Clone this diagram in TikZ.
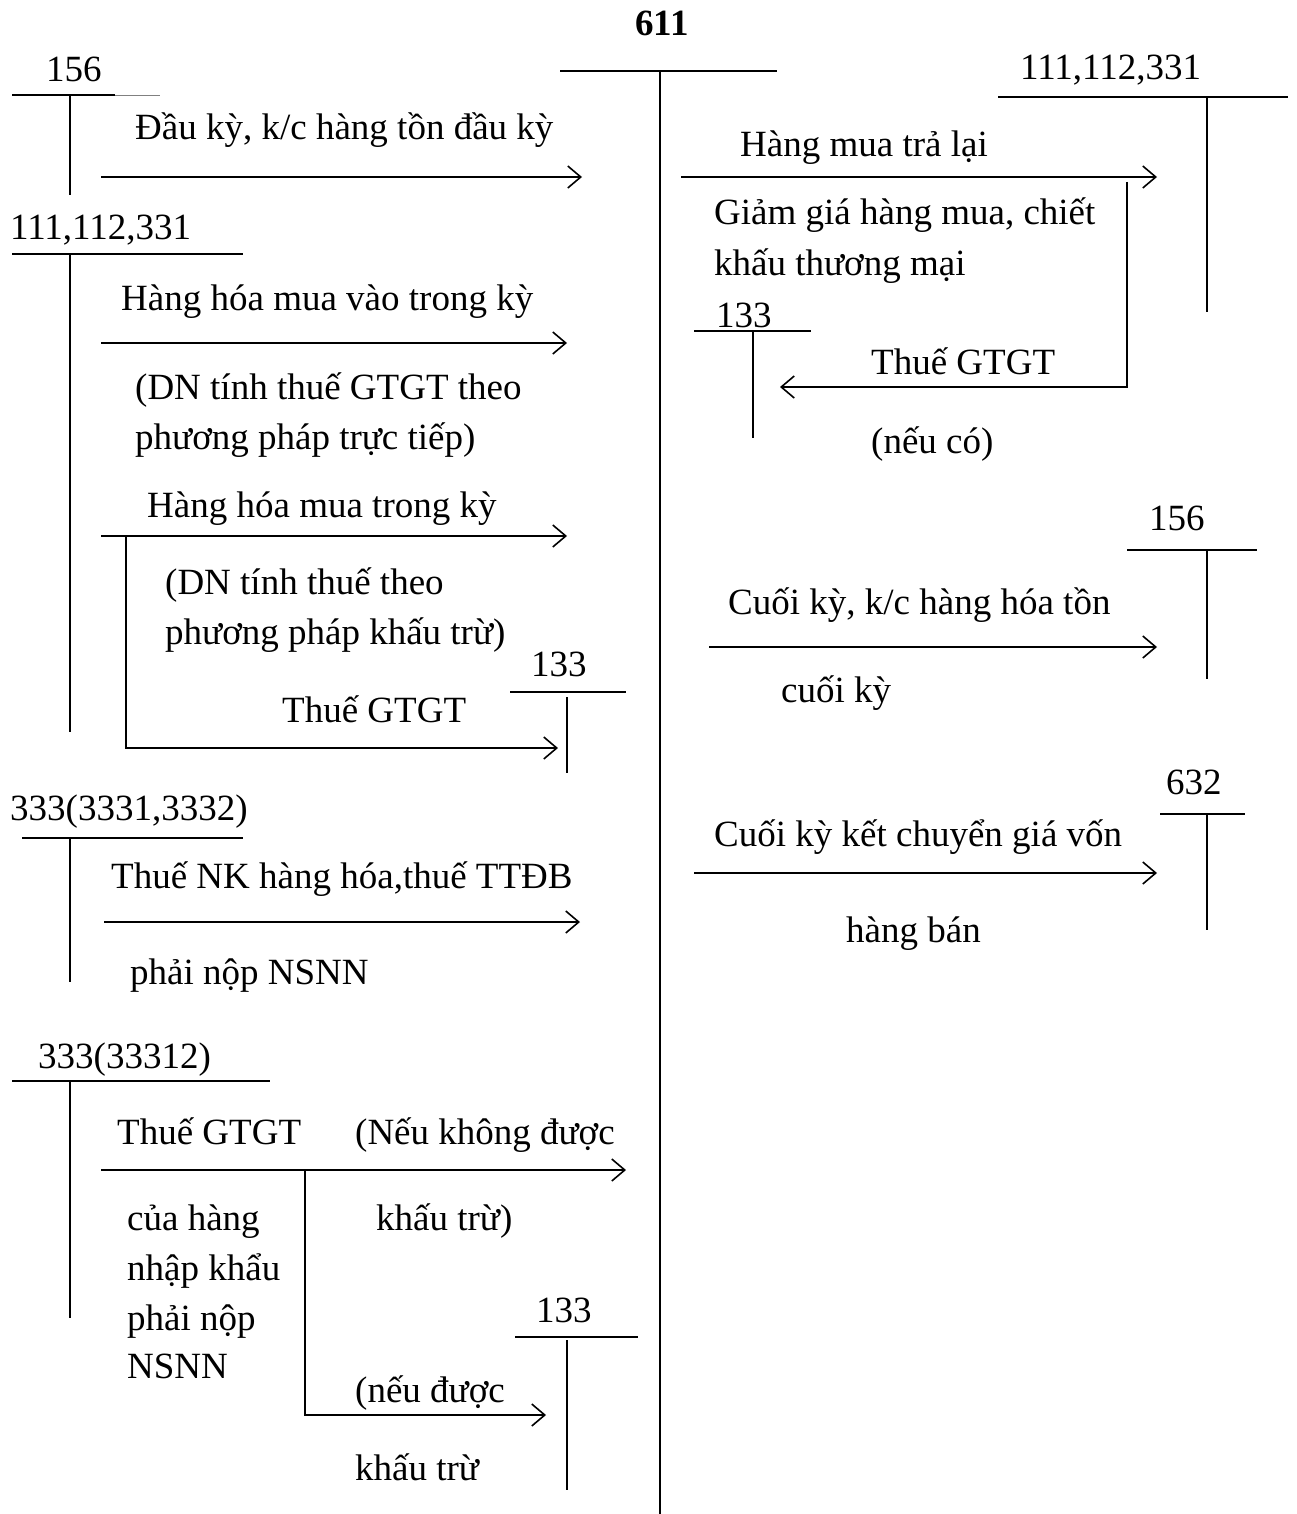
\documentclass[tikz,border=0pt]{standalone}
\usepackage{fontspec}
\setmainfont{Liberation Serif}
\usetikzlibrary{arrows.meta}
\tikzset{
  tline/.style={line width=1.6pt},
  flow/.style={line width=1.6pt,-{Straight Barb[length=13pt,width=22pt,line width=1.6pt]}},
  lbl/.style={anchor=base west,inner sep=0pt,font=\fontsize{37}{44}\selectfont},
}
\begin{document}
\begin{tikzpicture}[x=1pt,y=-1pt]
\useasboundingbox (0,0) rectangle (1296,1514);
% 611
\node[anchor=base,inner sep=0pt,font=\fontsize{37}{44}\selectfont\bfseries] (t611) at (662,36) {611};
\draw[tline] (560,71) -- (777,71);
\draw[tline] (660,71) -- (660,1514);

% 156 left
\node[lbl] (a156) at (46,82) {156};
\draw[tline] (12,95) -- (115,95);
\draw[line width=0.8pt,gray] (115,95) -- (160,95);
\draw[tline] (70,95) -- (70,195);
\node[lbl] (l1) at (135,140) {Đầu kỳ, k/c hàng tồn đầu kỳ};
\coordinate (s1) at (101,177); \coordinate (e1) at (582,177);
\draw[flow] (s1) -- (e1);

% 111,112,331 left
\node[lbl] (a111) at (10,240) {111,112,331};
\draw[tline] (12,254) -- (243,254);
\draw[tline] (70,254) -- (70,732);
\node[lbl] (l2) at (121,310) {Hàng hóa mua vào trong kỳ};
\coordinate (s2) at (101,343); \coordinate (e2) at (567,343);
\draw[flow] (s2) -- (e2);
\node[lbl] (l3a) at (135,399) {(DN tính thuế GTGT theo};
\node[lbl] (l3b) at (135,449) {phương pháp trực tiếp)};
\node[lbl] (l4) at (147,517) {Hàng hóa mua trong kỳ};
\coordinate (s3) at (101,536); \coordinate (e3) at (567,536);
\draw[flow] (s3) -- (e3);
\coordinate (b3) at (126,536); \coordinate (e3b) at (558,748);
\draw[flow] (b3) |- (e3b);
\node[lbl] (l5a) at (165,594) {(DN tính thuế theo};
\node[lbl] (l5b) at (165,644) {phương pháp khấu trừ)};
\node[lbl] (a133a) at (531,676) {133};
\draw[tline] (510,692) -- (626,692);
\draw[tline] (567,697) -- (567,773);
\node[lbl] (l6) at (282,722) {Thuế GTGT};

% 333(3331,3332)
\node[lbl] (a333) at (10,820) {333(3331,3332)};
\draw[tline] (22,838) -- (243,838);
\draw[tline] (70,838) -- (70,982);
\node[lbl] (l7) at (111,888) {Thuế NK hàng hóa,thuế TTĐB};
\coordinate (s4) at (104,922); \coordinate (e4) at (580,922);
\draw[flow] (s4) -- (e4);
\node[lbl] (l8) at (130,984) {phải nộp NSNN};

% 333(33312)
\node[lbl] (a3331) at (38,1068) {333(33312)};
\draw[tline] (12,1081) -- (270,1081);
\draw[tline] (70,1081) -- (70,1318);
\node[lbl] (l9) at (117,1144) {Thuế GTGT};
\node[lbl] (l10) at (355,1144) {(Nếu không được};
\coordinate (s5) at (101,1170); \coordinate (e5) at (626,1170);
\draw[flow] (s5) -- (e5);
\coordinate (b5) at (305,1170); \coordinate (e5b) at (546,1415);
\draw[flow] (b5) |- (e5b);
\node[lbl] (l11) at (376,1230) {khấu trừ)};
\node[lbl] (l12a) at (127,1230) {của hàng};
\node[lbl] (l12b) at (127,1280) {nhập khẩu};
\node[lbl] (l12c) at (127,1330) {phải nộp};
\node[lbl] (l12d) at (127,1378) {NSNN};
\node[lbl] (a133c) at (536,1322) {133};
\draw[tline] (515,1337) -- (638,1337);
\draw[tline] (567,1340) -- (567,1490);
\node[lbl] (l13) at (355,1402) {(nếu được};
\node[lbl] (l14) at (355,1480) {khấu trừ};

% right 111,112,331
\node[lbl] (r111) at (1020,80) {111,112,331};
\draw[tline] (998,97) -- (1288,97);
\draw[tline] (1207,97) -- (1207,312);
\node[lbl] (r1) at (740,157) {Hàng mua trả lại};
\coordinate (s6) at (681,177); \coordinate (e6) at (1157,177);
\draw[flow] (s6) -- (e6);
\coordinate (b6) at (1127,182); \coordinate (e6b) at (780,387);
\draw[flow] (b6) |- (e6b);
\node[lbl] (r2a) at (714,225) {Giảm giá hàng mua, chiết};
\node[lbl] (r2b) at (714,275) {khấu thương mại};
\node[lbl] (r133) at (716,327) {133};
\draw[tline] (694,331) -- (811,331);
\draw[tline] (753,331) -- (753,438);
\node[lbl] (r3) at (871,374) {Thuế GTGT};
\node[lbl] (r4) at (871,453) {(nếu có)};

% right 156
\node[lbl] (r156) at (1149,530) {156};
\draw[tline] (1127,550) -- (1257,550);
\draw[tline] (1207,550) -- (1207,679);
\node[lbl] (r5) at (728,614) {Cuối kỳ, k/c hàng hóa tồn};
\coordinate (s7) at (709,647); \coordinate (e7) at (1157,647);
\draw[flow] (s7) -- (e7);
\node[lbl] (r6) at (781,702) {cuối kỳ};

% right 632
\node[lbl] (r632) at (1166,794) {632};
\draw[tline] (1160,814) -- (1245,814);
\draw[tline] (1207,814) -- (1207,930);
\node[lbl] (r7) at (714,846) {Cuối kỳ kết chuyển giá vốn};
\coordinate (s8) at (694,873); \coordinate (e8) at (1157,873);
\draw[flow] (s8) -- (e8);
\node[lbl] (r8) at (846,942) {hàng bán};
\end{tikzpicture}
\end{document}
